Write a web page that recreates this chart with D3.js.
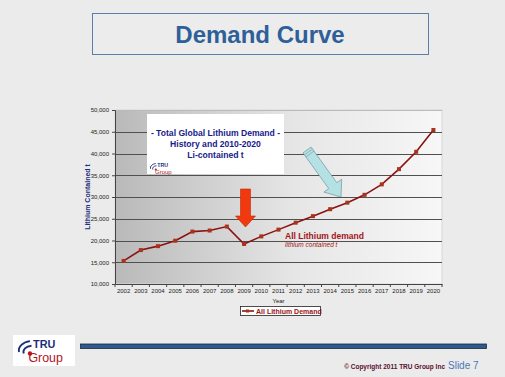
<!DOCTYPE html>
<html>
<head>
<meta charset="utf-8">
<script src="https://cdn.jsdelivr.net/npm/d3@7"></script>
<style>
  body { margin: 0; background: #ebebeb; }
  svg { display: block; font-family: "Liberation Sans", Arial, sans-serif; }
</style>
</head>
<body>
<div id="chart"></div>
<script>
// data
const years = ["2002","2003","2004","2005","2006","2007","2008","2009","2010","2011",
               "2012","2013","2014","2015","2016","2017","2018","2019","2020"];
const demand = [15300, 17800, 18700, 19950, 22050, 22300, 23200, 19200, 20950, 22500,
                24100, 25600, 27200, 28700, 30500, 32900, 36400, 40400, 45400];
const yTicks = [10000, 15000, 20000, 25000, 30000, 35000, 40000, 45000, 50000];

const width = 505, height = 377,
      margin = ({ top: 110, right: 63, bottom: 93, left: 115 });

const svg = d3.select("#chart").append("svg")
    .attr("width", width).attr("height", height);

const defs = svg.append("defs");
const grad = defs.append("linearGradient").attr("id", "plotbg");
grad.append("stop").attr("offset", "0%").attr("stop-color", "#b9b9b9");
grad.append("stop").attr("offset", "55%").attr("stop-color", "#e6e6e6");
grad.append("stop").attr("offset", "100%").attr("stop-color", "#f7f7f7");

// slide title
svg.append("rect")
    .attr("x", 92.5).attr("y", 13.5).attr("width", 336).attr("height", 41)
    .attr("fill", "#ececec").attr("stroke", "#5b7fa6");
svg.append("text")
    .attr("x", 260).attr("y", 43).attr("text-anchor", "middle")
    .style("font-size", "24px").style("font-weight", "bold").attr("fill", "#2f5f98")
    .text("Demand Curve");

// scales
const x = d3.scaleBand()
    .domain(years)
    .range([margin.left, width - margin.right]);

const y = d3.scaleLinear()
    .domain([10000, 50000])
    .range([height - margin.bottom, margin.top]);

// plot area
svg.append("rect")
    .attr("x", margin.left).attr("y", margin.top)
    .attr("width", x.range()[1] - margin.left)
    .attr("height", y(10000) - y(50000))
    .attr("fill", "url(#plotbg)")
    .attr("stroke", "#d8d8d8");

// grid lines
svg.append("g")
    .selectAll("line")
    .data(yTicks.slice(1))
    .join("line")
    .attr("x1", margin.left).attr("x2", x.range()[1])
    .attr("y1", d => Math.round(y(d)) + 0.5).attr("y2", d => Math.round(y(d)) + 0.5)
    .attr("stroke", d => d === 50000 ? "#bbbbbb" : "#505050")
    .attr("stroke-width", 1);

// axes
const yAxis = svg.append("g")
    .attr("transform", `translate(${margin.left},0)`)
    .call(d3.axisLeft(y).tickValues(yTicks).tickFormat(d3.format(",")).tickSize(3));
yAxis.selectAll("text").style("font-size", "6px").attr("fill", "#222");
yAxis.selectAll("line, path").attr("stroke", "#444");

const xAxis = svg.append("g")
    .attr("transform", `translate(0,${y(10000)})`)
    .call(d3.axisBottom(x).tickSize(0).tickPadding(5));
xAxis.selectAll("text").style("font-size", "6px").attr("fill", "#222");
xAxis.select("path").attr("stroke", "#444");
// ticks between categories
xAxis.append("g").selectAll("line")
    .data(years.concat(["end"]))
    .join("line")
    .attr("x1", (d, i) => margin.left + i * x.bandwidth())
    .attr("x2", (d, i) => margin.left + i * x.bandwidth())
    .attr("y1", 0).attr("y2", 3)
    .attr("stroke", "#444");

svg.append("text")
    .attr("x", (margin.left + x.range()[1]) / 2).attr("y", 303)
    .attr("text-anchor", "middle").style("font-size", "6px").attr("fill", "#222")
    .text("Year");

svg.append("text")
    .attr("transform", `translate(90,${(y(10000) + y(50000)) / 2}) rotate(-90)`)
    .attr("text-anchor", "middle")
    .style("font-size", "7px").style("font-weight", "bold").attr("fill", "#1b2f7a")
    .text("Lithium Contained t");

// demand line
const line = d3.line()
    .x((d, i) => x(years[i]) + x.bandwidth() / 2)
    .y(d => y(d));

svg.append("path")
    .datum(demand)
    .attr("d", line)
    .attr("fill", "none")
    .attr("stroke", "#8b1212")
    .attr("stroke-width", 1.6);

svg.append("g")
    .selectAll("rect")
    .data(demand)
    .join("rect")
    .attr("x", (d, i) => x(years[i]) + x.bandwidth() / 2 - 2)
    .attr("y", d => y(d) - 2)
    .attr("width", 4).attr("height", 4)
    .attr("fill", "#a8321c");

// inset title box
svg.append("rect")
    .attr("x", 147).attr("y", 114).attr("width", 137).attr("height", 60)
    .attr("fill", "#ffffff");
const inset = svg.append("text")
    .attr("text-anchor", "middle")
    .style("font-size", "8.6px").style("font-weight", "bold").attr("fill", "#17208a");
inset.append("tspan").attr("x", 215.5).attr("y", 136).text("- Total Global Lithium Demand -");
inset.append("tspan").attr("x", 215.5).attr("y", 147).text("History and 2010-2020");
inset.append("tspan").attr("x", 215.5).attr("y", 158).text("Li-contained t");

// small TRU Group logo: arcs, dot, two words
function logo(g, k) {
    g.append("path")
        .attr("d", `M${9*k},${2*k} A${9*k},${6*k} 0 0,0 ${2*k},${9*k}`)
        .attr("fill", "none").attr("stroke", "#1b2f7a").attr("stroke-width", 1.2 * k);
    g.append("path")
        .attr("d", `M${10*k},${5*k} A${6*k},${4*k} 0 0,0 ${5*k},${10*k}`)
        .attr("fill", "none").attr("stroke", "#1b2f7a").attr("stroke-width", 1.2 * k);
    g.append("circle").attr("cx", 9 * k).attr("cy", 10 * k).attr("r", 1.4 * k).attr("fill", "#c0161d");
    g.append("text").attr("x", 11 * k).attr("y", 6.5 * k).style("font-size", `${7 * k}px`)
        .style("font-weight", "bold").attr("fill", "#1b2f7a").text("TRU");
    g.append("text").attr("x", 8 * k).attr("y", 15.5 * k).style("font-size", `${8 * k}px`)
        .attr("fill", "#b0141c").text("Group");
}
logo(svg.append("g").attr("transform", "translate(149,162)"), 0.75);

// red arrow
svg.append("path")
    .attr("d", "M240.5,189 L250.5,189 L250.5,216 L255.5,216 L245.5,227 L235.5,216 L240.5,216 Z")
    .attr("fill", "#f2380f").attr("stroke", "#c02808").attr("stroke-width", 0.6);

// cyan arrow
const cx0 = 307, cy0 = 150, ang = Math.atan2(197 - 150, 341 - 307);
const L = Math.hypot(341 - 307, 197 - 150);
const arrowPts = [[0, -5], [L - 14, -5], [L - 14, -11], [L, 0], [L - 14, 11], [L - 14, 5], [0, 5]];
const ag = svg.append("g")
    .attr("transform", `translate(${cx0},${cy0}) rotate(${ang * 180 / Math.PI})`);
ag.append("path")
    .attr("d", "M" + arrowPts.map(p => p.join(",")).join("L") + "Z")
    .attr("fill", "#b4e2e4").attr("stroke", "#6f8f95").attr("stroke-width", 0.6);
[2.5, 5].forEach(o => ag.append("line")
    .attr("x1", o).attr("x2", o).attr("y1", -5).attr("y2", 5)
    .attr("stroke", "#6f8f95").attr("stroke-width", 0.5));

// annotation
svg.append("text")
    .attr("x", 285).attr("y", 239)
    .style("font-size", "8.5px").style("font-weight", "bold").attr("fill", "#a3141a")
    .text("All Lithium demand");
svg.append("text")
    .attr("x", 285).attr("y", 247)
    .style("font-size", "6.5px").style("font-style", "italic").attr("fill", "#a3141a")
    .text("lithium contained t");

// legend
svg.append("rect")
    .attr("x", 240.5).attr("y", 306.5).attr("width", 80).attr("height", 9)
    .attr("fill", "#ffffff").attr("stroke", "#222").attr("stroke-width", 0.8);
svg.append("line")
    .attr("x1", 242).attr("x2", 254).attr("y1", 311).attr("y2", 311)
    .attr("stroke", "#8b1212").attr("stroke-width", 1.6);
svg.append("rect").attr("x", 246).attr("y", 309.5).attr("width", 3).attr("height", 3)
    .attr("fill", "#a8321c");
svg.append("text")
    .attr("x", 256).attr("y", 314)
    .style("font-size", "7px").style("font-weight", "bold").attr("fill", "#9a1414")
    .text("All Lithium Demand");

// footer
svg.append("rect")
    .attr("x", 13).attr("y", 335).attr("width", 62).attr("height", 31).attr("fill", "#ffffff");
logo(svg.append("g").attr("transform", "translate(16,338)"), 1.55);
svg.append("rect")
    .attr("x", 80.5).attr("y", 344).attr("width", 406).attr("height", 4.5)
    .attr("fill", "#2d5b8e").attr("stroke", "#1a2a3a").attr("stroke-width", 0.8);
svg.append("text")
    .attr("x", 445).attr("y", 369).attr("text-anchor", "end")
    .style("font-size", "6.5px").style("font-weight", "bold").attr("fill", "#5a1030")
    .text("© Copyright 2011 TRU Group Inc");
svg.append("text")
    .attr("x", 448).attr("y", 369)
    .style("font-size", "10px").attr("fill", "#4a78b8")
    .text("Slide 7");
</script>
</body>
</html>
